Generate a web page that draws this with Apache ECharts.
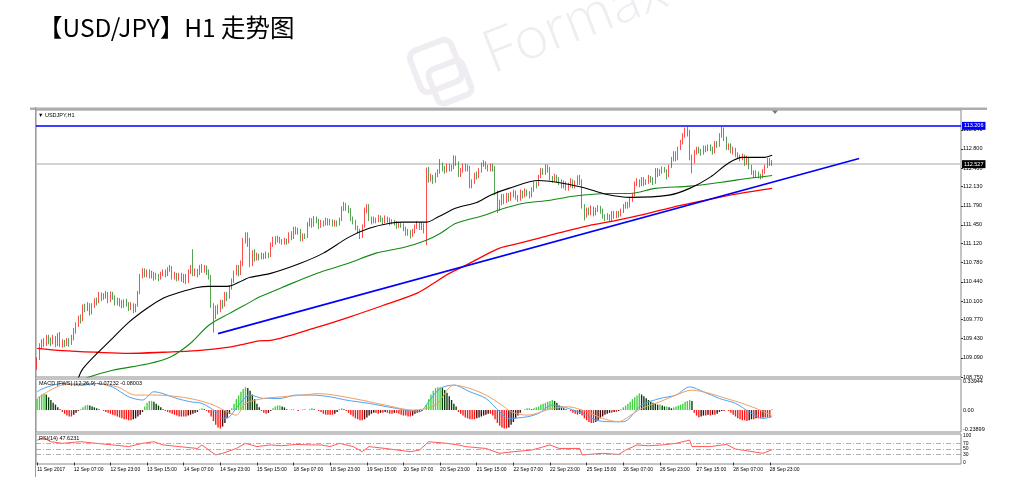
<!DOCTYPE html>
<html><head><meta charset="utf-8">
<script src="https://cdn.jsdelivr.net/npm/echarts@6/dist/echarts.min.js"></script>
<style>html,body{margin:0;padding:0;background:#fff}#c{width:1012px;height:494px}</style>
</head><body><div id="c"></div>
<script>
// ---- tick labels ----
const timeLabels = ['11 Sep 2017','12 Sep 07:00','12 Sep 23:00','13 Sep 15:00','14 Sep 07:00','14 Sep 23:00','15 Sep 15:00','18 Sep 07:00','18 Sep 23:00','19 Sep 15:00','20 Sep 07:00','20 Sep 23:00','21 Sep 15:00','22 Sep 07:00','22 Sep 23:00','25 Sep 15:00','26 Sep 07:00','26 Sep 23:00','27 Sep 15:00','28 Sep 07:00','28 Sep 23:00'];
const priceTicks = [108.750,109.090,109.430,109.770,110.100,110.440,110.780,111.120,111.450,111.790,112.130,112.460,112.800,113.140];
const macdTicks = [0.33944, 0, -0.23899];
const rsiTicks = [100,70,50,30,0];
const resistance = 113.206;
const lastPrice = 112.527;

// ---- candles [open, close, low, high] ----
const candles = [
[108.90,109.08,108.88,109.10],[109.08,109.30,109.05,109.35],[109.30,109.38,109.25,109.42],[109.38,109.34,109.28,109.44],
[109.34,109.46,109.30,109.50],[109.46,109.40,109.33,109.50],[109.40,109.36,109.30,109.45],[109.36,109.45,109.33,109.50],
[109.45,109.33,109.28,109.48],[109.33,109.50,109.30,109.53],[109.50,109.32,109.28,109.55],[109.32,109.38,109.27,109.42],
[109.38,109.34,109.28,109.41],[109.34,109.41,109.30,109.44],[109.41,109.35,109.29,109.44],[109.35,109.44,109.32,109.50],
[109.44,109.58,109.40,109.62],[109.58,109.68,109.52,109.72],[109.68,109.80,109.64,109.84],[109.80,109.76,109.70,109.86],
[109.76,110.00,109.74,110.04],[110.00,109.96,109.90,110.05],[109.96,110.04,109.92,110.08],[110.04,109.88,109.84,110.06],
[109.88,110.02,109.86,110.06],[110.02,110.12,109.98,110.15],[110.12,110.08,110.02,110.16],[110.08,110.22,110.06,110.26],
[110.22,110.16,110.10,110.25],[110.16,110.20,110.12,110.24],[110.20,110.24,110.14,110.28],[110.24,110.10,110.06,110.26],
[110.10,110.22,110.08,110.27],[110.22,110.18,110.12,110.26],[110.18,110.06,110.02,110.20],[110.06,110.12,110.02,110.16],
[110.12,110.08,110.00,110.15],[110.08,110.02,109.97,110.12],[110.02,110.10,109.98,110.13],[110.10,110.06,110.00,110.14],
[110.06,109.96,109.92,110.08],[109.96,110.04,109.94,110.08],[110.04,109.94,109.88,110.06],[109.94,110.02,109.90,110.05],
[110.02,110.24,110.00,110.28],[110.24,110.55,110.22,110.58],[110.55,110.64,110.50,110.68],[110.64,110.58,110.52,110.68],
[110.58,110.62,110.52,110.66],[110.62,110.54,110.50,110.66],[110.54,110.60,110.50,110.64],[110.60,110.52,110.46,110.62],
[110.52,110.56,110.48,110.60],[110.56,110.50,110.45,110.58],[110.50,110.58,110.48,110.62],[110.58,110.62,110.54,110.66],
[110.62,110.56,110.52,110.66],[110.56,110.66,110.54,110.70],[110.66,110.70,110.62,110.74],[110.70,110.52,110.48,110.72],
[110.52,110.58,110.48,110.62],[110.58,110.50,110.45,110.60],[110.50,110.56,110.46,110.60],[110.56,110.48,110.44,110.60],
[110.48,110.54,110.42,110.58],[110.54,110.44,110.40,110.58],[110.44,110.62,110.42,110.66],[110.62,110.70,110.58,110.74],
[110.70,110.58,110.54,111.02],[110.58,110.64,110.54,110.68],[110.64,110.58,110.52,110.67],[110.58,110.70,110.56,110.74],
[110.70,110.64,110.60,110.76],[110.64,110.70,110.60,110.74],[110.70,110.62,110.56,110.73],[110.62,110.52,110.48,110.66],
[110.52,110.02,109.98,110.56],[110.02,109.82,109.54,110.06],[109.82,109.98,109.78,110.02],[109.98,109.94,109.86,110.04],
[109.94,110.08,109.90,110.12],[110.08,110.02,109.96,110.12],[110.02,110.20,110.00,110.26],[110.20,110.16,110.10,110.26],
[110.16,110.34,110.14,110.38],[110.34,110.46,110.30,110.50],[110.46,110.60,110.42,110.64],[110.60,110.70,110.56,110.74],
[110.70,110.60,110.54,110.74],[110.60,110.76,110.56,110.82],[110.76,111.18,110.72,111.22],[111.18,111.28,111.12,111.32],
[111.28,111.16,111.06,111.32],[111.16,110.76,110.70,111.22],[110.76,110.94,110.72,111.00],[110.94,110.86,110.80,111.02],
[110.86,110.90,110.82,110.96],[110.90,110.86,110.82,110.94],[110.86,110.92,110.84,110.96],[110.92,110.88,110.84,110.95],
[110.88,110.94,110.85,110.98],[110.94,110.90,110.86,110.96],[110.90,111.10,110.88,111.14],[111.10,111.20,111.06,111.24],
[111.20,111.16,111.10,111.25],[111.16,111.22,111.14,111.26],[111.22,111.16,111.12,111.24],[111.16,111.14,111.10,111.20],
[111.14,111.19,111.10,111.22],[111.19,111.15,111.10,111.21],[111.15,111.28,111.12,111.32],[111.28,111.24,111.18,111.34],
[111.24,111.38,111.20,111.42],[111.38,111.32,111.28,111.42],[111.32,111.36,111.28,111.40],[111.36,111.20,111.16,111.38],
[111.20,111.26,111.16,111.30],[111.26,111.24,111.20,111.30],[111.24,111.46,111.22,111.50],[111.46,111.55,111.42,111.58],
[111.55,111.44,111.40,111.57],[111.44,111.58,111.42,111.61],[111.58,111.54,111.48,111.60],[111.54,111.42,111.38,111.56],
[111.42,111.50,111.40,111.54],[111.50,111.46,111.42,111.53],[111.46,111.55,111.44,111.58],[111.55,111.48,111.44,111.57],
[111.48,111.52,111.44,111.56],[111.52,111.45,111.42,111.55],[111.45,111.50,111.42,111.54],[111.50,111.46,111.42,111.53],
[111.46,111.54,111.44,111.58],[111.54,111.74,111.52,111.78],[111.74,111.82,111.70,111.86],[111.82,111.76,111.70,111.84],
[111.76,111.72,111.66,111.80],[111.72,111.56,111.52,111.75],[111.56,111.50,111.46,111.60],[111.50,111.40,111.36,111.54],
[111.40,111.34,111.30,111.44],[111.34,111.26,111.20,111.38],[111.26,111.42,111.22,111.46],[111.42,111.72,111.40,111.76],
[111.72,111.80,111.66,111.82],[111.80,111.56,111.52,111.82],[111.56,111.50,111.46,111.60],[111.50,111.56,111.48,111.60],
[111.56,111.54,111.48,111.58],[111.54,111.60,111.50,111.63],[111.60,111.54,111.50,111.62],[111.54,111.50,111.46,111.58],
[111.50,111.58,111.48,111.62],[111.58,111.54,111.49,111.60],[111.54,111.48,111.44,111.58],[111.48,111.52,111.46,111.55],
[111.52,111.48,111.44,111.54],[111.48,111.42,111.38,111.52],[111.42,111.46,111.40,111.50],[111.46,111.44,111.40,111.49],
[111.44,111.38,111.34,111.48],[111.38,111.30,111.26,111.42],[111.30,111.34,111.26,111.38],[111.34,111.26,111.21,111.36],
[111.26,111.34,111.24,111.38],[111.34,111.42,111.30,111.46],[111.42,111.48,111.38,111.52],[111.48,111.40,111.36,111.50],
[111.40,111.46,111.36,111.50],[111.46,111.34,111.30,111.48],[111.34,112.44,111.09,112.47],[112.44,112.26,112.20,112.48],
[112.26,112.30,112.22,112.36],[112.30,112.24,112.18,112.34],[112.24,112.34,112.20,112.38],[112.34,112.40,112.30,112.44],
[112.40,112.52,112.36,112.62],[112.52,112.46,112.40,112.56],[112.46,112.40,112.36,112.50],[112.40,112.50,112.38,112.54],
[112.50,112.44,112.40,112.54],[112.44,112.48,112.40,112.52],[112.48,112.66,112.44,112.69],[112.66,112.54,112.50,112.68],
[112.54,112.34,112.30,112.58],[112.34,112.42,112.30,112.46],[112.42,112.50,112.38,112.54],[112.50,112.44,112.40,112.54],
[112.44,112.48,112.40,112.52],[112.48,112.14,112.10,112.50],[112.14,112.22,112.10,112.26],[112.22,112.34,112.18,112.38],
[112.34,112.30,112.26,112.40],[112.30,112.42,112.28,112.46],[112.42,112.52,112.38,112.56],[112.52,112.56,112.48,112.60],
[112.56,112.48,112.44,112.58],[112.48,112.44,112.40,112.52],[112.44,112.50,112.40,112.54],[112.50,112.46,112.40,112.54],
[112.46,112.02,111.98,112.50],[112.02,111.74,111.66,112.06],[111.74,111.84,111.70,111.90],[111.84,111.96,111.80,112.00],
[111.96,111.88,111.82,112.00],[111.88,111.98,111.84,112.02],[111.98,111.92,111.86,112.02],[111.92,112.00,111.88,112.04],
[112.00,112.04,111.94,112.08],[112.04,111.94,111.90,112.06],[111.94,111.90,111.86,111.98],[111.90,112.04,111.88,112.08],
[112.04,111.96,111.92,112.06],[111.96,112.06,111.94,112.10],[112.06,112.02,111.96,112.08],[112.02,111.96,111.92,112.05],
[111.96,112.08,111.94,112.12],[112.08,112.18,112.04,112.22],[112.18,112.16,112.10,112.22],[112.16,112.30,112.14,112.34],
[112.30,112.42,112.28,112.46],[112.42,112.38,112.34,112.46],[112.38,112.48,112.34,112.53],[112.48,112.44,112.38,112.52],
[112.44,112.28,112.24,112.48],[112.28,112.24,112.20,112.32],[112.24,112.32,112.22,112.36],[112.32,112.26,112.20,112.34],
[112.26,112.22,112.16,112.30],[112.22,112.14,112.10,112.26],[112.14,112.20,112.10,112.24],[112.20,112.10,112.06,112.22],
[112.10,112.16,112.06,112.20],[112.16,112.24,112.12,112.28],[112.24,112.14,112.10,112.26],[112.14,112.20,112.10,112.24],
[112.20,112.28,112.16,112.33],[112.28,112.22,112.16,112.34],[112.22,111.78,111.74,112.26],[111.78,111.62,111.53,111.82],
[111.62,111.72,111.58,111.76],[111.72,111.66,111.62,111.76],[111.66,111.76,111.62,111.80],[111.76,111.64,111.60,111.78],
[111.64,111.72,111.62,111.76],[111.72,111.76,111.68,111.80],[111.76,111.70,111.65,111.79],[111.70,111.60,111.56,111.74],
[111.60,111.56,111.52,111.64],[111.56,111.62,111.54,111.66],[111.62,111.53,111.50,111.64],[111.53,111.66,111.51,111.70],
[111.66,111.60,111.56,111.70],[111.60,111.66,111.57,111.70],[111.66,111.62,111.58,111.70],[111.62,111.70,111.60,111.74],
[111.70,111.78,111.66,111.82],[111.78,111.82,111.74,111.86],[111.82,111.78,111.74,111.86],[111.78,111.90,111.76,111.94],
[111.90,111.98,111.86,112.02],[111.98,112.18,111.96,112.22],[112.18,112.24,112.14,112.28],[112.24,112.16,112.12,112.26],
[112.16,112.26,112.14,112.30],[112.26,112.18,112.14,112.30],[112.18,112.22,112.16,112.26],[112.22,112.30,112.18,112.34],
[112.30,112.26,112.20,112.32],[112.26,112.20,112.16,112.30],[112.20,112.42,112.18,112.46],[112.42,112.36,112.30,112.46],
[112.36,112.40,112.32,112.44],[112.40,112.46,112.36,112.49],[112.46,112.42,112.38,112.48],[112.42,112.32,112.26,112.44],
[112.32,112.48,112.30,112.52],[112.48,112.62,112.46,112.66],[112.62,112.72,112.58,112.76],[112.72,112.62,112.58,112.76],
[112.62,112.80,112.60,112.84],[112.80,112.92,112.78,112.96],[112.92,113.04,112.88,113.08],[113.04,113.14,113.00,113.18],
[113.14,113.10,113.02,113.21],[113.10,112.66,112.60,113.14],[112.66,112.58,112.37,112.70],[112.58,112.74,112.54,112.78],
[112.74,112.80,112.70,112.84],[112.80,112.76,112.72,112.84],[112.76,112.72,112.68,112.80],[112.72,112.82,112.70,112.86],
[112.82,112.78,112.74,112.86],[112.78,112.84,112.76,112.88],[112.84,112.80,112.76,112.88],[112.80,112.74,112.70,112.84],
[112.74,112.90,112.72,112.94],[112.90,112.86,112.82,112.94],[112.86,113.04,112.84,113.08],[113.04,113.14,113.00,113.19],
[113.14,112.98,112.94,113.18],[112.98,112.82,112.78,113.02],[112.82,112.86,112.78,112.90],[112.86,112.76,112.72,112.90],
[112.76,112.80,112.70,112.84],[112.80,112.70,112.66,112.82],[112.70,112.66,112.62,112.74],[112.66,112.62,112.58,112.70],
[112.62,112.68,112.60,112.72],[112.68,112.56,112.50,112.70],[112.56,112.64,112.52,112.68],[112.64,112.48,112.44,112.66],
[112.48,112.38,112.34,112.52],[112.38,112.32,112.28,112.42],[112.32,112.38,112.30,112.42],[112.38,112.32,112.28,112.40],
[112.32,112.30,112.26,112.36],[112.30,112.40,112.28,112.44],[112.40,112.48,112.36,112.52],[112.48,112.60,112.46,112.64],
[112.60,112.56,112.50,112.64],[112.56,112.527,112.50,112.60]
];

// ---- moving averages, sampled points [barIndex, price] ----
const maBlack = [[17,108.60],[20,108.90],[33,109.44],[40,109.72],[48,109.97],[55,110.15],[62,110.25],[70,110.34],[75,110.36],[83,110.36],[90,110.47],[93,110.52],[102,110.59],[115,110.77],[125,110.95],[136,111.23],[145,111.39],[154,111.48],[160,111.50],[170,111.50],[175,111.59],[183,111.75],[192,111.85],[198,111.98],[206,112.10],[219,112.24],[227,112.21],[238,112.12],[249,111.99],[259,111.94],[276,111.98],[285,112.10],[294,112.30],[302,112.55],[308,112.65],[317,112.65],[321,112.69]];
const maGreen = [[20,108.68],[22,108.74],[33,108.87],[48,108.98],[58,109.10],[67,109.35],[75,109.67],[84,109.88],[93,110.08],[97,110.17],[107,110.34],[122,110.59],[136,110.77],[148,110.95],[160,111.05],[170,111.18],[176,111.30],[183,111.48],[195,111.62],[202,111.72],[212,111.83],[224,111.89],[234,111.96],[249,112.01],[259,112.01],[270,112.10],[285,112.14],[299,112.21],[311,112.28],[321,112.33]];
const maRed = [[0,109.26],[11,109.22],[26,109.19],[40,109.17],[55,109.19],[70,109.22],[84,109.28],[90,109.33],[97,109.39],[102,109.40],[122,109.63],[136,109.81],[151,110.02],[166,110.24],[173,110.41],[180,110.59],[187,110.73],[194,110.88],[202,111.04],[209,111.11],[227,111.30],[241,111.44],[253,111.53],[263,111.62],[277,111.76],[292,111.89],[307,112.01],[321,112.10]];
const trendLine = [[79,109.52],[359,112.63]];

// ---- MACD ----
const macdHist = [
0.12,0.15,0.17,0.18, 0.17,0.14,0.11,0.08,0.06, 0.03,0.01,
-0.02,-0.04,-0.06,-0.07,-0.07,-0.05,-0.03, -0.01,0.01,
0.03,0.05,0.055,0.05,0.04,0.03,0.02, 0.01,0.00,-0.01,
-0.02,-0.03,-0.04,-0.05,-0.06,-0.07,-0.08,-0.09,-0.10,-0.10,-0.11,-0.11,-0.10,-0.09,-0.07,-0.05,-0.02,
0.04,0.08,0.10,0.10,0.09,0.07,0.05,0.03, 0.01,-0.01,
-0.02,-0.03,-0.04,-0.05,-0.06,-0.07,-0.07,-0.07,-0.07,-0.06,-0.05,-0.04,-0.03,-0.02,
0.01,0.02,0.01,
-0.01,-0.03,-0.07,-0.12,-0.16,-0.19,-0.20,-0.18,-0.14,-0.09,-0.04,
0.02,0.07,0.12,0.16,0.20,0.23,0.25,0.24,0.21,0.17,0.12,0.07,0.03,
-0.01,-0.03,-0.04,-0.03,-0.01,
0.02,0.04,0.05,0.05,0.04,0.03,0.01,
0.00,0.01,0.01,0.00,-0.01,0.00,0.01,0.01,0.00,0.01,0.02,0.01,0.00,
-0.01,-0.02,-0.04,-0.05,-0.05,-0.05,-0.05,-0.04,-0.02,
0.01,0.02,0.01,
-0.01,-0.03,-0.05,-0.07,-0.09,-0.10,-0.11,-0.11,-0.10,-0.08,-0.06,-0.04,
-0.03,-0.03,-0.04,-0.03,-0.03,-0.02,-0.03,-0.04,-0.04,-0.03,-0.03,-0.04,-0.05,
-0.06,-0.06,-0.07,-0.07,-0.06,-0.04,-0.03,
-0.02,-0.01,0.00,
0.06,0.12,0.17,0.21,0.24,0.25,0.25,0.24,0.22,0.19,0.15,0.11,0.07,0.04,
-0.02,-0.04,-0.06,-0.08,-0.09,-0.10,-0.10,-0.10,-0.09,-0.08,-0.07,-0.06,-0.05,-0.04,-0.04,-0.06,
-0.10,-0.14,-0.17,-0.19,-0.20,-0.20,-0.19,-0.16,-0.13,-0.09,-0.06,-0.03,
0.00,0.01,0.02,0.02,0.01,0.02,
0.03,0.04,0.06,0.07,0.08,0.09,0.10,0.11,0.10,0.08,0.05,
0.03,0.02,0.01,0.00,-0.01,
-0.03,-0.04,-0.05,-0.04,
-0.06,-0.09,-0.11,-0.13,-0.14,-0.14,-0.13,-0.11,-0.09,-0.07,
-0.05,-0.04,-0.03,-0.03,-0.02,-0.02,-0.01,
0.01,0.03,0.05,0.07,0.09,0.12,0.14,0.16,0.18,
0.17,0.15,0.13,0.11,0.09,0.08,0.07,0.06,0.06,0.05,0.04,0.04,0.03,
0.02,0.03,0.04,0.05,0.06,0.07,0.09,0.10,0.11,0.10,
-0.03,-0.06,-0.08,-0.07,-0.06,-0.06,-0.05,-0.06,-0.05,-0.05,-0.04,-0.02,-0.01,
-0.01,0.00,-0.01,
-0.03,-0.05,-0.07,-0.09,-0.10,-0.11,-0.11,-0.12,-0.11,-0.10,-0.10,-0.09,-0.09,-0.09,-0.08,-0.08,-0.08,
-0.08,0.01
];
const macdMain = [[0,0.20],[3,0.24],[11,0.29],[19,0.27],[26,0.29],[33,0.25],[40,0.145],[46,0.11],[51,0.20],[55,0.18],[61,0.127],[67,0.091],[72,0.073],[78,-0.018],[81,-0.091],[84,-0.073],[88,0.055],[93,0.164],[99,0.127],[106,0.127],[113,0.164],[120,0.164],[128,0.145],[135,0.109],[145,0.073],[157,0.018],[167,-0.018],[171,0.091],[176,0.236],[182,0.273],[189,0.20],[196,0.127],[202,-0.018],[206,-0.091],[214,-0.073],[219,-0.036],[225,0.055],[232,0.018],[240,-0.055],[244,-0.109],[250,-0.127],[256,-0.127],[264,0.055],[272,0.127],[279,0.164],[285,0.254],[291,0.20],[298,0.127],[305,0.073],[311,-0.018],[317,-0.091],[321,-0.072]];
const macdSignal = [[0,0.127],[11,0.273],[26,0.29],[35,0.254],[43,0.164],[52,0.164],[62,0.145],[70,0.109],[77,0.055],[83,-0.018],[87,-0.055],[91,0.073],[99,0.127],[107,0.145],[116,0.164],[123,0.18],[138,0.127],[152,0.055],[164,0.0],[174,0.055],[182,0.273],[189,0.236],[196,0.164],[203,0.055],[207,-0.018],[214,-0.055],[225,0.018],[232,0.036],[240,-0.018],[247,-0.091],[254,-0.127],[256,-0.109],[264,0.018],[272,0.091],[279,0.164],[286,0.218],[294,0.18],[301,0.127],[308,0.073],[314,0.018],[321,-0.06]];

// ---- RSI(14) ----
const rsi = [[0,83],[3,90],[6,77],[11,71],[19,77],[26,71],[33,65],[40,59],[46,71],[51,77],[55,65],[62,59],[70,52],[72,65],[75,46],[78,28],[81,34],[87,52],[91,71],[96,59],[102,65],[107,62],[113,67],[120,65],[124,65],[128,59],[132,71],[138,59],[142,40],[145,59],[152,52],[163,40],[167,46],[171,77],[179,71],[184,65],[187,59],[196,52],[202,34],[208,40],[216,46],[224,65],[228,52],[237,52],[238,28],[247,34],[254,30],[257,46],[262,65],[267,62],[273,65],[279,71],[285,83],[286,59],[294,59],[301,67],[305,50],[311,42],[317,34],[321,47.6]];

// ---- layout / build ----
const NCAT = 404;
const cats = Array.from({length: NCAT}, (_, i) => String(i));
const GL = 36, GW = 925;
const smallFont = 'Liberation Sans';
const wm = '#f0edf2';
const showTick = (idx) => idx % 16 === 0 && idx / 16 < timeLabels.length;

const histData = macdHist.map((v, i) => {
  const p = i > 0 ? macdHist[i - 1] : v;
  let c;
  if (v >= 0) c = v >= p ? '#3fcf3f' : '#0b3a0b';
  else c = v <= p ? '#ff1414' : '#4a0808';
  return {value: v, itemStyle: {color: c}};
});

function xAx(gi, labels) {
  return {
    type: 'category', gridIndex: gi, data: cats, boundaryGap: true,
    axisLine: {show: false},
    axisTick: labels ? {show: true, interval: showTick, alignWithLabel: true, length: 3, lineStyle: {color: '#333', width: 1}} : {show: false},
    axisLabel: labels ? {show: true, interval: showTick, align: 'left', margin: 3, fontSize: 5, fontFamily: smallFont, color: '#000',
      formatter: (v, idx) => timeLabels[Math.round(Number(v) / 16)] || ''} : {show: false},
    splitLine: {show: false}
  };
}

const lab = {fontSize: 5.5, fontFamily: smallFont, color: '#000'};
const option = {
  animation: false,
  backgroundColor: '#fff',
  title: [
    {text: '【USD/JPY】H1 走势图', left: 33, top: 10, textStyle: {fontSize: 24.5, fontWeight: 'normal', fontFamily: 'Noto Sans CJK SC', color: '#000'}},
    {text: '▼ USDJPY,H1', left: 38, top: 112, padding: 0, textStyle: {fontSize: 5.5, fontWeight: 'normal', fontFamily: smallFont, color: '#000'}},
    {text: 'MACD [FWS] (12,26,9) -0.07232 -0.08003', left: 39, top: 380, padding: 0, textStyle: {fontSize: 5.5, fontWeight: 'normal', fontFamily: smallFont, color: '#000'}},
    {text: 'RSI(14) 47.6231', left: 39, top: 435, padding: 0, textStyle: {fontSize: 5.5, fontWeight: 'normal', fontFamily: smallFont, color: '#000'}}
  ],
  graphic: [
    {type: 'text', x: 496, y: 84, rotation: 0.37, z: -10, silent: true,
      style: {text: 'Formax', fill: wm, font: '300 60px Lato', verticalAlign: 'bottom'}},
    {type: 'rect', x: 436, y: 66, rotation: 0.37, z: -10, silent: true,
      shape: {x: -22, y: -22, width: 44, height: 44, r: 8}, style: {fill: 'none', stroke: wm, lineWidth: 6}},
    {type: 'rect', x: 450, y: 82, rotation: 0.37, z: -10, silent: true,
      shape: {x: -18, y: -18, width: 36, height: 36, r: 6}, style: {fill: 'none', stroke: wm, lineWidth: 6}},
    {type: 'rect', x: 30, y: 107.5, z: 5, silent: true, shape: {width: 957, height: 2.5}, style: {fill: '#adadad'}},
    {type: 'line', z: 5, silent: true, shape: {x1: 35.5, y1: 107, x2: 35.5, y2: 477}, style: {stroke: '#9a9a9a', lineWidth: 1}},
    {type: 'polygon', z: 6, silent: true, shape: {points: [[772, 110.5], [778, 110.5], [775, 114]]}, style: {fill: '#7a7a7a'}}
  ],
  grid: [
    {left: GL, top: 110, width: GW, height: 267, show: true, borderColor: '#8a8a8a', borderWidth: 1},
    {left: GL, top: 379, width: GW, height: 53, show: true, borderColor: '#8a8a8a', borderWidth: 1},
    {left: GL, top: 434, width: GW, height: 30, show: true, borderColor: '#8a8a8a', borderWidth: 1}
  ],
  xAxis: [xAx(0, false), xAx(1, false), xAx(2, true)],
  yAxis: [
    {type: 'value', gridIndex: 0, position: 'right', min: 108.75, max: 113.492, splitLine: {show: false}, axisLine: {show: false},
      axisTick: {show: true, length: 2, customValues: priceTicks, lineStyle: {color: '#333'}},
      axisLabel: Object.assign({margin: 2, customValues: priceTicks, formatter: v => v.toFixed(3)}, lab)},
    {type: 'value', gridIndex: 1, position: 'right', min: -0.23899, max: 0.33944, splitLine: {show: false}, axisLine: {show: false},
      axisTick: {show: false},
      axisLabel: Object.assign({margin: 2, customValues: macdTicks,
        formatter: v => v === 0 ? '0.00' : (v > 0 ? '{t|' + v.toFixed(5) + '}' : '{b|' + v.toFixed(5) + '}'),
        rich: {t: {fontSize: 5.5, fontFamily: smallFont, padding: [5, 0, 0, 0]}, b: {fontSize: 5.5, fontFamily: smallFont, padding: [0, 0, 6, 0]}}}, lab)},
    {type: 'value', gridIndex: 2, position: 'right', min: -5.6, max: 105.6, splitLine: {show: false}, axisLine: {show: false},
      axisTick: {show: false},
      axisLabel: Object.assign({margin: 2, customValues: rsiTicks, formatter: v => String(v)}, lab, {fontSize: 5})}
  ],
  series: [
    {type: 'candlestick', xAxisIndex: 0, yAxisIndex: 0, data: candles, barWidth: '55%',
      itemStyle: {color: '#ff0000', color0: '#0a7d0a', borderColor: '#ff0000', borderColor0: '#0a7d0a', borderWidth: 0.7},
      markLine: {symbol: 'none', silent: true, z: 1,
        data: [
          {yAxis: resistance, lineStyle: {color: '#0000ff', width: 1.6, type: 'solid'},
            label: {show: true, position: 'end', distance: 1, formatter: resistance.toFixed(3), backgroundColor: '#0000ff', color: '#fff', fontSize: 5.5, fontFamily: smallFont, padding: [1, 2, 1, 2]}},
          {yAxis: lastPrice, lineStyle: {color: '#c4c4c4', width: 1.5, type: 'solid'},
            label: {show: true, position: 'end', distance: 1, formatter: lastPrice.toFixed(3), backgroundColor: '#000', color: '#fff', fontSize: 5.5, fontFamily: smallFont, padding: [1, 2, 1, 2]}}
        ]}},
    {type: 'line', xAxisIndex: 0, yAxisIndex: 0, data: maRed, showSymbol: false, smooth: 0.3, z: 3, lineStyle: {color: '#ff0000', width: 1.3}},
    {type: 'line', xAxisIndex: 0, yAxisIndex: 0, data: maGreen, showSymbol: false, smooth: 0.3, z: 3, lineStyle: {color: '#118a11', width: 1.1}},
    {type: 'line', xAxisIndex: 0, yAxisIndex: 0, data: maBlack, showSymbol: false, smooth: 0.3, z: 3, lineStyle: {color: '#000', width: 1.1}},
    {type: 'line', xAxisIndex: 0, yAxisIndex: 0, data: trendLine, showSymbol: false, z: 4, lineStyle: {color: '#0000ff', width: 1.6}},
    {type: 'bar', xAxisIndex: 1, yAxisIndex: 1, data: histData, barWidth: '60%'},
    {type: 'line', xAxisIndex: 1, yAxisIndex: 1, data: macdMain, showSymbol: false, smooth: 0.3, lineStyle: {color: '#4ea3f5', width: 1}},
    {type: 'line', xAxisIndex: 1, yAxisIndex: 1, data: macdSignal, showSymbol: false, smooth: 0.3, lineStyle: {color: '#eda066', width: 1}},
    {type: 'line', xAxisIndex: 2, yAxisIndex: 2, data: rsi, showSymbol: false, lineStyle: {color: '#ff3030', width: 0.8},
      markLine: {symbol: 'none', silent: true, label: {show: false},
        lineStyle: {color: '#9d9d9d', width: 0.8, type: [5, 2, 1, 2]},
        data: [{yAxis: 70}, {yAxis: 50}, {yAxis: 30}]}}
  ]
};
const chart = echarts.init(document.getElementById('c'), null, {renderer: 'canvas'});
chart.setOption(option);
</script>
</body></html>
